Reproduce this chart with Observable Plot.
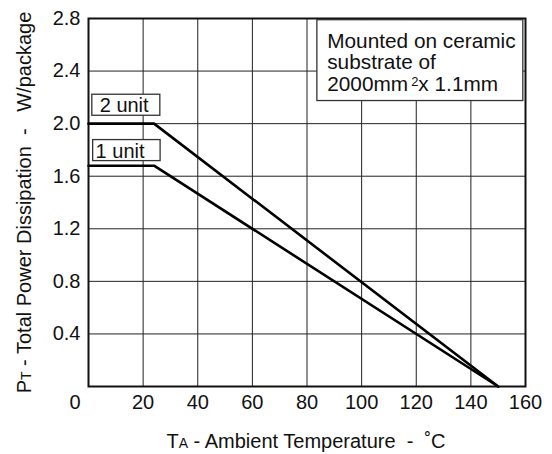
<!DOCTYPE html>
<html>
<head>
<meta charset="utf-8">
<script src="https://cdn.jsdelivr.net/npm/d3@7"></script>
<script src="https://cdn.jsdelivr.net/npm/@observablehq/plot@0.6"></script>
<style>
  html, body { margin: 0; padding: 0; background: #fff; }
  svg text { font-family: "Liberation Sans", Arial, sans-serif; }
</style>
</head>
<body>
<div id="chart"></div>
<script>
// Derating curves (Ambient temperature °C -> W/package)
const temps2 = [0, 24, 150];
const power2 = [2.0, 2.0, 0];
const temps1 = [0, 24, 150];
const power1 = [1.68, 1.68, 0];

const xTicks = [20, 40, 60, 80, 100, 120, 140, 160];
const yTicks = [0.4, 0.8, 1.2, 1.6, 2.0, 2.4, 2.8];
const yTickLabels = ["0.4", "0.8", "1.2", "1.6", "2.0", "2.4", "2.8"];

// Series labels (text position, box extent in data units)
const seriesLabels = ["2 unit", "1 unit"];
const labelX = [4.1, 2.6];
const labelY = [2.14, 1.79];
const boxX1 = [1.4, 1.7];
const boxX2 = [26.3, 26.4];
const boxY1 = [2.06, 1.715];
const boxY2 = [2.22, 1.875];

// Note box
const noteText = "Mounted on ceramic\nsubstrate of\n2000mm\u00B2x 1.1mm";
const noteX = 87.4;
const noteY = 2.8;
const noteBox = {x1: 83.8, x2: 159.2, y1: 2.172, y2: 2.787};

const xTitle = "TA - Ambient Temperature  -  \u02DAC";
const yTitle = "PT - Total Power Dissipation  -   W/package";

const line2 = temps2.map((t, i) => ({t, p: power2[i]}));
const line1 = temps1.map((t, i) => ({t, p: power1[i]}));
const labels = seriesLabels.map((s, i) => ({s, x: labelX[i], y: labelY[i], x1: boxX1[i], x2: boxX2[i], y1: boxY1[i], y2: boxY2[i]}));

const FS = 20;
const chart = Plot.plot({
  width: 552,
  height: 454,
  marginLeft: 88,
  marginRight: 27,
  marginTop: 18,
  marginBottom: 68,
  style: {fontFamily: "Liberation Sans, Arial, sans-serif", fontSize: FS + "px", background: "#fff", color: "#111"},
  x: {domain: [0, 160], axis: null},
  y: {domain: [0, 2.8], axis: null},
  marks: [
    Plot.gridX(xTicks, {stroke: "#222", strokeOpacity: 1, strokeWidth: 1}),
    Plot.gridY(yTicks, {stroke: "#222", strokeOpacity: 1, strokeWidth: 1}),
    Plot.frame({stroke: "#111", strokeWidth: 2}),
    Plot.line(line2, {x: "t", y: "p", stroke: "#000", strokeWidth: 2.6}),
    Plot.line(line1, {x: "t", y: "p", stroke: "#000", strokeWidth: 2.6}),
    // x tick labels
    Plot.text(xTicks, {x: d => d, y: 0, text: d => String(d), dy: 16, lineAnchor: "middle", fontSize: FS, fill: "#111"}),
    // y tick labels
    Plot.text(yTicks, {x: 0, y: d => d, text: (d, i) => yTickLabels[i], dx: -8, textAnchor: "end", lineAnchor: "middle", fontSize: FS, fill: "#111"}),
    // shared origin label
    Plot.text([0], {x: 0, y: 0, text: ["0"], dx: -8, dy: 16, textAnchor: "end", lineAnchor: "middle", fontSize: FS, fill: "#111"}),
    // series label boxes
    Plot.rect(labels, {x1: "x1", x2: "x2", y1: "y1", y2: "y2", fill: "#fff", stroke: "#333", strokeWidth: 1.3}),
    Plot.text(labels, {x: "x", y: "y", text: "s", textAnchor: "start", lineAnchor: "middle", fontSize: FS, fill: "#111"}),
    // note box
    Plot.rect([noteBox], {x1: "x1", x2: "x2", y1: "y1", y2: "y2", fill: "#fff", stroke: "#333", strokeWidth: 1.3}),
    Plot.text([noteText], {x: noteX, y: noteY, text: d => d, textAnchor: "start", lineAnchor: "top", dy: 14, lineHeight: 1.04, fontSize: 20.8, fill: "#111"}),
    // axis titles
    Plot.text([xTitle], {frameAnchor: "bottom", dy: 55, dx: -1, text: d => d, textAnchor: "middle", lineAnchor: "middle", fontSize: FS, fill: "#111"}),
    Plot.text([yTitle], {frameAnchor: "left", dx: -64, text: d => d, rotate: -90, textAnchor: "middle", lineAnchor: "middle", fontSize: FS, fill: "#111"})
  ]
});
document.getElementById("chart").appendChild(chart);

// subscript letters in axis titles (small capitals on the baseline)
d3.select(chart).selectAll("text").each(function() {
  const el = d3.select(this);
  const t = this.textContent;
  const m = t.match(/^(T)(A)( - Ambient.*)$/) || t.match(/^(P)(T)( - Total.*)$/);
  if (m) {
    el.text(null);
    el.append("tspan").text(m[1]);
    el.append("tspan").attr("font-size", "14px").text(m[2]);
    el.append("tspan").text(m[3]);
  }
});
// superscript "2" in the note
d3.select(chart).selectAll("tspan").each(function() {
  const t = this.textContent;
  if (t === "2000mm\u00B2x 1.1mm") {
    const el = d3.select(this);
    el.text(null);
    el.append("tspan").text("2000mm");
    el.append("tspan").attr("font-size", "13px").attr("dx", "3").attr("dy", "-5").text("2");
    el.append("tspan").attr("dy", "5").text("x 1.1mm");
  }
});
</script>
</body>
</html>
